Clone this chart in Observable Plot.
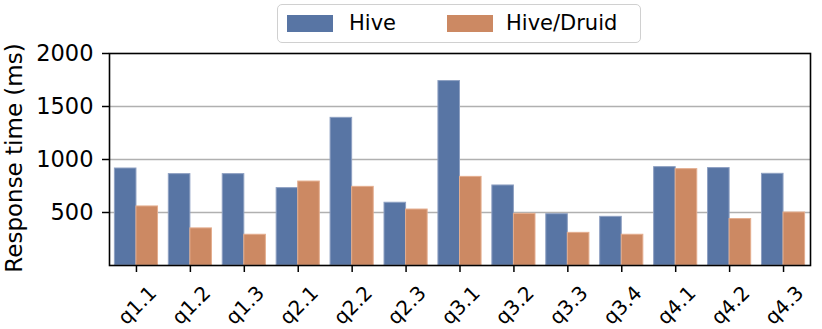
<!DOCTYPE html>
<html>
<head>
<meta charset="utf-8">
<script src="https://cdn.jsdelivr.net/npm/d3@7"></script>
<script src="https://cdn.jsdelivr.net/npm/@observablehq/plot@0.6"></script>
<style>
  html, body { margin: 0; padding: 0; background: #fff; }
  #wrap { position: relative; width: 822px; height: 329px; font-family: "DejaVu Sans", sans-serif; }
  #wrap svg { overflow: visible; }
  #legend { position: absolute; left: 277px; top: 4px; width: 362px; height: 37px;
            border: 1.5px solid #d0d0d0; border-radius: 5px; background: rgba(255,255,255,0.85);
            font-size: 21px; color: #000; }
  #legend .sw { position: absolute; top: 10px; width: 46px; height: 17px; }
  #legend .lb { position: absolute; top: 5px; line-height: 26px; white-space: nowrap; }
</style>
</head>
<body>
<div id="wrap"></div>
<script>
const queries = ["q1.1","q1.2","q1.3","q2.1","q2.2","q2.3","q3.1","q3.2","q3.3","q3.4","q4.1","q4.2","q4.3"];
const hive  = [915, 862, 862, 730, 1393, 592, 1740, 755, 484, 459, 928, 919, 865];
const druid = [557, 350, 290, 792, 742, 528, 836, 487, 308, 290, 909, 438, 500];
const seriesNames = ["Hive", "Hive/Druid"];
const seriesColors = ["#5875a4", "#cc8963"];
const yTicks = [500, 1000, 1500, 2000];
const yLabel = "Response time (ms)";

const rows = [];
queries.forEach((q, i) => {
  rows.push({i, q, s: seriesNames[0], v: hive[i]});
  rows.push({i, q, s: seriesNames[1], v: druid[i]});
});
const groupWidth = 0.8;
const idx = queries.map((_, i) => i);

const chart = Plot.plot({
  width: 822,
  height: 329,
  marginLeft: 109,
  marginRight: 12,
  marginTop: 53,
  marginBottom: 64,
  style: {fontFamily: "DejaVu Sans", fontSize: "21px", color: "#000", background: "transparent", overflow: "visible"},
  x: {domain: [-0.5, queries.length - 0.5], axis: null},
  y: {domain: [0, 2000], axis: null},
  color: {domain: seriesNames, range: seriesColors},
  marks: [
    Plot.ruleY(yTicks.slice(0, -1), {stroke: "#b0b0b0", strokeWidth: 1.6}),
    Plot.rectY(rows, {
      x1: d => d.i - groupWidth / 2 + (d.s === seriesNames[0] ? 0 : groupWidth / 2),
      x2: d => d.i + (d.s === seriesNames[0] ? 0 : groupWidth / 2),
      y1: 0, y2: "v",
      fill: "s",
      stroke: d => d.s === seriesNames[0] ? "#8ea0c2" : "#e4ad8e",
      strokeWidth: 1
    }),
    Plot.axisY({ticks: yTicks, tickSize: 7, tickPadding: 9, strokeWidth: 1.5, fontSize: 22.5,
                tickFormat: d => String(d), label: null}),
    Plot.axisX({ticks: idx, tickSize: 7, strokeWidth: 1.5, tickFormat: () => "", label: null}),
    Plot.text(idx, {x: d => d, frameAnchor: "bottom", dx: 1, dy: 40, rotate: -45,
                    textAnchor: "middle", lineAnchor: "middle", text: i => queries[i], fontSize: 20}),
    Plot.text([yLabel], {frameAnchor: "left", dx: -95, dy: -1.5, rotate: -90,
                         textAnchor: "middle", lineAnchor: "middle", text: d => d, fontSize: 23}),
    Plot.frame({stroke: "#000", strokeWidth: 1.6})
  ]
});

const wrap = document.getElementById("wrap");
wrap.appendChild(chart);

const legend = document.createElement("div");
legend.id = "legend";
const pos = [{sw: 9, lb: 71}, {sw: 169, lb: 228}];
seriesNames.forEach((name, k) => {
  const sw = document.createElement("div");
  sw.className = "sw";
  sw.style.left = pos[k].sw + "px";
  sw.style.background = seriesColors[k];
  const lb = document.createElement("div");
  lb.className = "lb";
  lb.style.left = pos[k].lb + "px";
  lb.textContent = name;
  legend.appendChild(sw);
  legend.appendChild(lb);
});
wrap.appendChild(legend);
</script>
</body>
</html>
